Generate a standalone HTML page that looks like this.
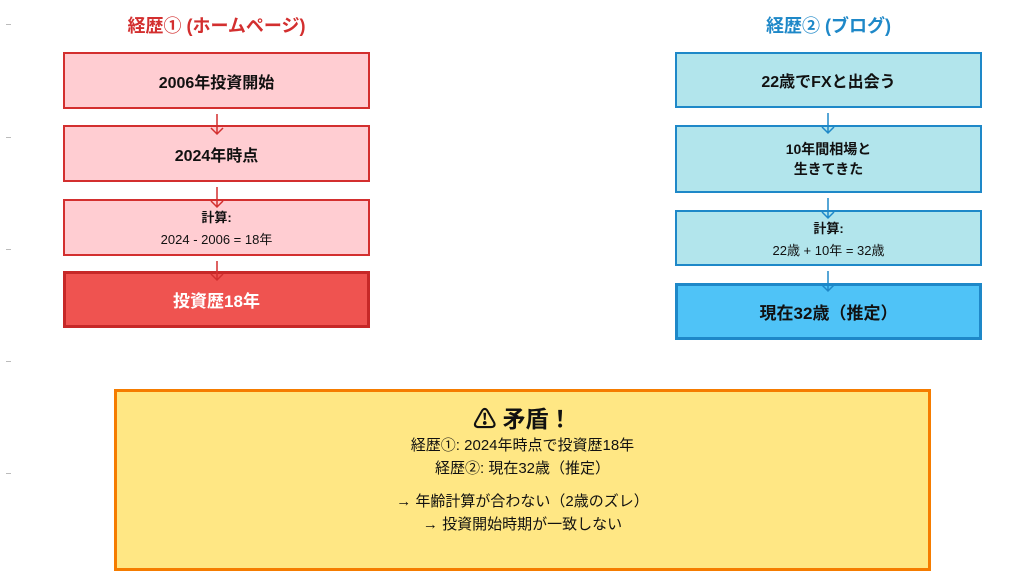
<!DOCTYPE html>
<html><head><meta charset="utf-8"><style>
body{margin:0;width:1024px;height:582px;background:#fff;position:relative;font-family:"Liberation Sans","Noto Sans CJK JP",sans-serif;overflow:hidden}
.b{position:absolute;box-sizing:border-box;display:flex;flex-direction:column;align-items:center;justify-content:center;text-align:center;color:#111}
.r{background:#ffcdd2;border:2px solid #d32f2f}
.c{background:#b2e5ec;border:2px solid #1e88c8}
.t{position:absolute;font-weight:bold;font-size:18px;text-align:center}
.tk{position:absolute;left:6px;width:5px;height:1px;background:#bbb}
</style></head><body>
<div class="tk" style="top:24px"></div><div class="tk" style="top:137px"></div><div class="tk" style="top:249px"></div><div class="tk" style="top:361px"></div><div class="tk" style="top:473px"></div>
<div class="t" style="left:63px;width:307px;top:12px;color:#d32f2f">経歴① (ホームページ)</div>
<div class="t" style="left:675px;width:307px;top:12px;color:#1e88c8">経歴② (ブログ)</div>

<div class="b r" style="left:63px;top:52px;width:307px;height:57px;font-size:16px;font-weight:bold">2006年投資開始</div>
<div class="b r" style="left:63px;top:125px;width:307px;height:57px;font-size:16px;font-weight:bold">2024年時点</div>
<div class="b r" style="left:63px;top:199px;width:307px;height:57px;font-size:13px"><b>計算:</b><span style="margin-top:3px">2024 - 2006 = 18年</span></div>
<div class="b" style="left:63px;top:271px;width:307px;height:57px;background:#ef5350;border:3px solid #c62828;color:#fff;font-size:17px;font-weight:bold">投資歴18年</div>

<div class="b c" style="left:675px;top:52px;width:307px;height:56px;font-size:16px;font-weight:bold">22歳でFXと出会う</div>
<div class="b c" style="left:675px;top:125px;width:307px;height:68px;font-size:14px;font-weight:bold;line-height:20px">10年間相場と<br>生きてきた</div>
<div class="b c" style="left:675px;top:210px;width:307px;height:56px;font-size:13px"><b>計算:</b><span style="margin-top:3px">22歳 + 10年 = 32歳</span></div>
<div class="b" style="left:675px;top:283px;width:307px;height:57px;background:#4fc3f7;border:3px solid #1e88c8;font-size:17px;font-weight:bold">現在32歳（推定）</div>

<svg width="1024" height="582" style="position:absolute;left:0;top:0" fill="none" stroke-width="1.5">
<g stroke="#d32f2f">
<path d="M217 114V134M211 128l6 6 6-6"/>
<path d="M217 187V207M211 201l6 6 6-6"/>
<path d="M217 261V280M211 274l6 6 6-6"/>
</g>
<g stroke="#1e88c8">
<path d="M828 113V133M822 127l6 6 6-6"/>
<path d="M828 198V218M822 212l6 6 6-6"/>
<path d="M828 271V291M822 285l6 6 6-6"/>
</g>
</svg>

<div class="b" style="left:114px;top:389px;width:817px;height:182px;background:#ffe784;border:3px solid #f57c00;justify-content:flex-start;padding-top:12px;font-size:15px;line-height:23px">
<div style="font-size:23px;font-weight:bold;line-height:30px">⚠ 矛盾！</div>
<div>経歴①: 2024年時点で投資歴18年</div>
<div>経歴②: 現在32歳（推定）</div>
<div style="margin-top:10px">→ 年齢計算が合わない（2歳のズレ）</div>
<div>→ 投資開始時期が一致しない</div>
</div>
</body></html>
